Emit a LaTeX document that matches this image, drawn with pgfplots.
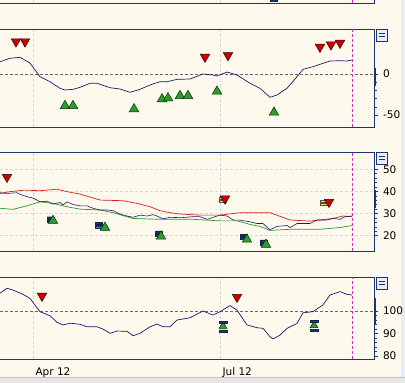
\documentclass[border=0pt]{standalone}
\usepackage{pgfplots}
\pgfplotsset{compat=1.18}
\usepackage{fontspec}
\setmainfont{DejaVu Sans}
\definecolor{bgc}{HTML}{FDF9EC}
\definecolor{navyc}{HTML}{1C3475}
\definecolor{linec}{HTML}{1A1A6E}
\definecolor{redl}{HTML}{D42020}
\definecolor{greenl}{HTML}{2A9A2A}
\definecolor{redm}{HTML}{CC0000}
\definecolor{greenm}{HTML}{2E9B2E}
\definecolor{pinkc}{HTML}{CC33CC}
\definecolor{gridc}{HTML}{D8D8D8}
\definecolor{yelc}{HTML}{F2E640}
\definecolor{stripc}{HTML}{E6ECF6}
\definecolor{botc}{HTML}{E6E6E6}
\definecolor{botl}{HTML}{C4C4C4}
\definecolor{btnc}{HTML}{E8ECF4}
\pgfdeclareplotmark{eqbars}{%
  \pgfpathrectangle{\pgfqpoint{-\pgfplotmarksize}{0.15\pgfplotmarksize}}{\pgfqpoint{2\pgfplotmarksize}{0.6\pgfplotmarksize}}%
  \pgfpathrectangle{\pgfqpoint{-\pgfplotmarksize}{-0.75\pgfplotmarksize}}{\pgfqpoint{2\pgfplotmarksize}{0.6\pgfplotmarksize}}%
  \pgfusepathqfillstroke}
\pgfdeclareplotmark{eqwide}{%
  \pgfpathrectangle{\pgfqpoint{-\pgfplotmarksize}{0.9\pgfplotmarksize}}{\pgfqpoint{2\pgfplotmarksize}{0.55\pgfplotmarksize}}%
  \pgfpathrectangle{\pgfqpoint{-\pgfplotmarksize}{-1.35\pgfplotmarksize}}{\pgfqpoint{2\pgfplotmarksize}{0.55\pgfplotmarksize}}%
  \pgfusepathqfillstroke}
\pgfplotsset{
  panel/.style={scale only axis, width=384pt, xmin=-10, xmax=374,
    axis background/.style={fill=bgc},
    axis line style={navyc, line width=0.9pt},
    ytick pos=right, yticklabel pos=right, xtick pos=bottom,
    tick align=outside, major tick length=4pt, minor tick length=2.5pt,
    ytick style={navyc, line width=0.6pt},
    xtick={33,220}, xticklabels={}, xtick style={draw=none},
    xmajorgrids, major x grid style={gridc, dash pattern=on 3pt off 2pt, line width=0.5pt},
    ticklabel style={font=\fontsize{10.5}{12}\selectfont, text=black},
    /pgf/number format/assume math mode=true,
    yticklabel style={xshift=1.5pt},
    clip=false},
  dn/.style={only marks, mark=triangle*, mark size=5.5pt, mark options={rotate=180, fill=redm, draw=black!80!red, line width=0.5pt}},
  up/.style={only marks, mark=triangle*, mark size=5.5pt, mark options={fill=greenm, draw=black!80!green, line width=0.5pt}},
  bb/.style={only marks, mark=eqbars, mark size=3.5pt, mark options={fill=navyc, draw=navyc!70!black, line width=0.4pt}},
  yb/.style={only marks, mark=eqbars, mark size=3.5pt, mark options={fill=yelc, draw=black!70, line width=0.4pt}},
  pink/.style={pinkc, line width=0.8pt, dash pattern=on 3pt off 2pt},
}
\begin{document}
\begin{tikzpicture}[x=1pt,y=1pt]
\path[use as bounding box] (0,0) rectangle (405,383);
\fill[bgc] (0,0) rectangle (405,383);
\fill[stripc] (401,0) rectangle (405,383);
\fill[botc] (0,0) rectangle (405,5.5);
\draw[botl, line width=0.6pt] (0,5.5) -- (405,5.5);

% top panel (mostly cut off)
\begin{axis}[panel, at={(-10pt,380pt)}, anchor=south west, height=40pt, ymin=0, ymax=10, ytick=\empty]
\addplot[pink] coordinates {(352,0) (352,10)};
\addplot[bb] coordinates {(274,1.0)};
\end{axis}

% panel 2: oscillator
\begin{axis}[panel, at={(-10pt,256pt)}, anchor=south west, height=98pt,
  ymin=-64.6, ymax=54.9, ytick={-50,0}, minor y tick num=4]
\addplot[gray!80!black, line width=0.6pt, dash pattern=on 3pt off 2pt] coordinates {(-10,0) (374,0)};
\addplot[pink] coordinates {(352,-64.6) (352,54.9)};
\addplot[linec, line width=0.7pt] coordinates {(0,15)(10,19.1)(20,20.4)(30,13.4)(40,-3.3)(50,-9.4)(60,-17.4)(65,-19.5)(73,-18.7)(80,-16.2)(90,-11.3)(97,-11.3)(110,-16.7)(120,-18.3)(130,-22.3)(140,-18.7)(150,-13.4)(160,-9.4)(167,-9.4)(177,-6.5)(190,-6.1)(203,0)(213,-1.2)(217,-2.4)(227,2.4)(237,-1.2)(250,-11.3)(260,-17.4)(270,-28.4)(277,-25.6)(287,-17.4)(297,-3.3)(303,5.7)(313,8.9)(320,11.8)(330,15.9)(340,16.2)(347,15.9)(352,17.1)};
\addplot[dn] coordinates {(16,39.5)(25,39.5)(205,20.8)(228,22.8)(320,33)(331,35.8)(340,37.9)};
\addplot[up] coordinates {(65,-38.7)(73,-38.7)(134,-42.7)(162,-30.6)(168,-29.3)(180,-26.5)(188,-26.5)(217,-21.2)(274,-46.8)};
\draw[navyc, line width=2pt] (axis cs:374.5,7) -- (axis cs:374.5,-14);
\end{axis}

% panel 3
\begin{axis}[panel, at={(-10pt,132pt)}, anchor=south west, height=99pt,
  ymin=13.1, ymax=57.8, ytick={20,30,40,50}, minor y tick num=4,
  ymajorgrids, major y grid style={gridc, dash pattern=on 3pt off 2pt, line width=0.5pt}]
\addplot[pink] coordinates {(352,13.1) (352,57.8)};
\addplot[redl, line width=0.7pt] coordinates {(0,39.1)(10,39.9)(25,40.6)(40,40.3)(57,41)(67,39.9)(80,38.8)(100,36.1)(123,35.8)(137,34.6)(150,33.1)(160,31.3)(170,30.4)(180,29.8)(200,29.3)(220,29.3)(240,30.4)(270,30.4)(290,27.1)(310,26.6)(320,27.1)(333,27.8)(343,28.9)(352,28.6)};
\addplot[greenl, line width=0.7pt] coordinates {(0,32.4)(13,31.9)(27,33.5)(40,35.3)(53,34.6)(67,33.1)(80,32)(100,31.6)(113,30.4)(133,27.8)(160,27.4)(193,27.4)(220,26.7)(237,26.7)(250,25.1)(260,24.2)(270,22.4)(290,22.9)(320,22.9)(340,23.7)(352,24.6)};
\addplot[linec, line width=0.6pt] coordinates {(0,39.4)(7,39.1)(17,39.4)(20,38.7)(27,37.6)(33,37)(37,36.1)(40,35.3)(47,35.6)(53,34.3)(60,35)(63,33.9)(67,35.3)(73,34.1)(80,33.5)(87,33.5)(93,32.4)(100,31.6)(107,31.6)(113,31.3)(120,29.8)(127,28.9)(133,28.3)(140,29.3)(147,28.9)(153,29.5)(157,28.9)(163,27.6)(170,28.3)(177,28.2)(183,28.2)(193,28.6)(200,28.6)(207,27.4)(213,28.3)(220,29.3)(227,28.9)(233,27.1)(240,27)(250,26.3)(257,25.5)(263,25.5)(270,22.7)(277,24.2)(287,24.6)(290,23.7)(297,25.5)(310,25.5)(317,27.1)(327,27.1)(333,27.8)(340,27.4)(345,28.6)(352,28.9)};
\addplot[bb] coordinates {(50.5,27.4)(99,24.8)(159,21.0)(243.5,19.4)(263.5,16.9)};
\addplot[yb] coordinates {(223,36.2)(323.5,34.8)};
\addplot[dn] coordinates {(7,46.5)(225,36.7)(329,35.2)};
\addplot[up] coordinates {(53,26.8)(105,23.7)(161,19.7)(247,18.3)(266,16.0)};
\draw[navyc, line width=2pt] (axis cs:374.5,40.6) -- (axis cs:374.5,32.4);
\end{axis}

% panel 4
\begin{axis}[panel, at={(-10pt,24pt)}, anchor=south west, height=82pt,
  ymin=78.7, ymax=115.1, ytick={80,90,100}, minor y tick num=4,
  xtick={33,220}, xticklabels={Apr 12,Jul 12}, xtick style={navyc, line width=0.6pt},
  extra x ticks={95,158,282,345}, extra x tick labels={}, extra x tick style={grid=none, xtick style={navyc, line width=0.6pt}},
  xticklabel style={anchor=north west, xshift=-1pt, yshift=-1pt}]
\addplot[gray!80!black, line width=0.6pt, dash pattern=on 3pt off 2pt] coordinates {(-10,100) (374,100)};
\addplot[pink] coordinates {(352,78.7) (352,115.1)};
\addplot[linec, line width=0.7pt] coordinates {(0,107.9)(7,110.1)(13,109.3)(23,107.4)(30,105.6)(40,99.7)(50,97.9)(57,95)(63,93.8)(70,94.6)(80,94.1)(87,93)(97,93)(103,92)(110,90.1)(117,91.1)(127,91)(133,89)(140,90.1)(150,93)(157,94.2)(163,93)(170,93)(177,96)(190,97)(203,100)(213,98.2)(220,99.7)(230,102.4)(237,100.4)(247,93.8)(257,92.6)(263,92.3)(270,88.6)(273,87.6)(280,89.3)(287,92.3)(297,94.5)(303,99.2)(313,99.7)(323,102.7)(330,107.1)(340,108.6)(347,107.4)(352,107.1)};
\addplot[dn] coordinates {(42,106.7)(237,106.2)};
\addplot[up, mark size=4.5pt] coordinates {(223,93.3)(314,93.6)};
\addplot[only marks, mark=eqwide, mark size=3.8pt, mark options={fill=navyc, draw=navyc!70!black, line width=0.4pt}] coordinates {(223,93)(314,93.3)};
\draw[navyc, line width=2pt] (axis cs:374.5,105.8) -- (axis cs:374.5,93.8);
\end{axis}

% buttons
\foreach \t in {29,152,277}{
  \draw[navyc, fill=btnc, line width=0.7pt] (376,383-\t) rectangle (387,383-\t-12.5);
  \draw[navyc, line width=1pt] (378.5,383-\t-4.8) -- (384.5,383-\t-4.8);
  \draw[navyc, line width=1pt] (378.5,383-\t-7.8) -- (384.5,383-\t-7.8);
}
\end{tikzpicture}
\end{document}
